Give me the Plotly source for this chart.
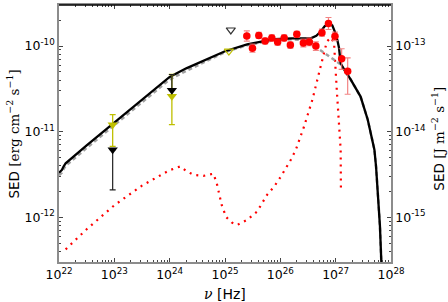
import plotly.graph_objects as go

# ---------------- data (log10 nu [Hz], log10 SED [erg cm^-2 s^-1]) ----------------
total_lognu = [22.00, 22.05, 22.08, 22.12, 22.50, 22.95, 23.50, 24.00, 24.30, 24.55,
               25.00, 25.40, 25.89, 26.20, 26.55, 26.65, 26.73, 26.80, 26.88, 26.94,
               26.99, 27.03, 27.06, 27.09, 27.15, 27.27, 27.45, 27.58, 27.70, 27.73,
               27.77, 27.80, 27.83]
total_logsed = [-11.48, -11.45, -11.41, -11.37, -11.16, -10.92, -10.62, -10.36, -10.26, -10.19,
                -10.06, -9.98, -9.92, -9.91, -9.91, -9.88, -9.83, -9.77, -9.73, -9.76,
                -9.84, -9.93, -10.02, -10.20, -10.27, -10.39, -10.59, -10.86, -11.21, -11.41,
                -11.80, -12.10, -12.60]

comp1_lognu = [22.00, 22.05, 22.08, 22.12, 22.50, 22.95, 23.50, 24.00, 24.30, 24.55,
               25.00, 25.40, 25.89, 26.20, 26.40, 26.55, 26.66, 26.80, 26.90, 27.00,
               27.08, 27.15, 27.27, 27.45, 27.58, 27.70, 27.73, 27.77, 27.80, 27.83]
comp1_logsed = [-11.51, -11.48, -11.44, -11.40, -11.19, -10.95, -10.65, -10.39, -10.29, -10.21,
                -10.07, -9.99, -9.93, -9.92, -9.93, -9.97, -10.02, -10.08, -10.12, -10.17,
                -10.21, -10.27, -10.39, -10.59, -10.86, -11.21, -11.41, -11.80, -12.10, -12.60]

comp2_lognu = [22.12, 22.50, 23.00, 23.50, 24.00, 24.19, 24.30, 24.43, 24.61, 24.79,
               24.85, 24.94, 25.02, 25.12, 25.22, 25.40, 25.58, 25.76, 25.89, 26.01,
               26.19, 26.28, 26.43, 26.58, 26.73, 26.84, 26.91, 26.97, 27.02, 27.06,
               27.09, 27.095]
comp2_logsed = [-12.375, -12.14, -11.86, -11.63, -11.45, -11.407, -11.46, -11.504, -11.516, -11.492,
                -11.60, -11.856, -11.997, -12.06, -12.09, -12.03, -11.934, -11.739, -11.64, -11.524,
                -11.328, -11.211, -10.938, -10.625, -10.234, -9.95, -9.90, -9.96, -10.51, -10.98,
                -11.21, -11.68]

obs_lognu = [25.394, 25.496, 25.611, 25.725, 25.846, 25.951, 26.069, 26.181, 26.298,
             26.416, 26.524, 26.642, 26.752, 26.870, 26.987, 27.108, 27.217]
obs_logsed = [-9.883, -10.025, -9.875, -9.941, -9.905, -9.953, -9.905, -9.988, -9.863,
              -9.964, -9.951, -10.000, -9.843, -9.736, -9.886, -10.148, -10.293]
obs_err_up = [0.06, 0.047, 0.035, 0.035, 0.035, 0.035, 0.035, 0.035, 0.035,
              0.045, 0.045, 0.05, 0.04, 0.07, 0.05, 0.117, 0.156]
obs_err_dn = [0.06, 0.047, 0.035, 0.035, 0.035, 0.035, 0.035, 0.035, 0.035,
              0.045, 0.045, 0.05, 0.04, 0.07, 0.05, 0.125, 0.27]

ul_black_lognu = [22.97, 24.04]
ul_black_logsed = [-11.211, -10.516]
ul_black_up = [0.0, 0.184]
ul_black_dn = [0.47, 0.0]

ul_yellow_lognu = [22.97, 24.04]
ul_yellow_logsed = [-10.918, -10.586]
ul_yellow_up = [0.117, 0.254]
ul_yellow_dn = [0.254, 0.332]

open_gray_lognu = [25.105]
open_gray_logsed = [-9.812]
open_yellow_lognu = [25.07]
open_yellow_logsed = [-10.059]

x_tickvals = [1e22, 1e23, 1e24, 1e25, 1e26, 1e27, 1e28]
x_ticktext = ["10<sup>22</sup>", "10<sup>23</sup>", "10<sup>24</sup>", "10<sup>25</sup>",
              "10<sup>26</sup>", "10<sup>27</sup>", "10<sup>28</sup>"]
y_tickvals = [1e-12, 1e-11, 1e-10]
y_ticktext = ["10<sup>-12</sup>", "10<sup>-11</sup>", "10<sup>-10</sup>"]
y2_tickvals = [1e-15, 1e-14, 1e-13]
y2_ticktext = ["10<sup>-15</sup>", "10<sup>-14</sup>", "10<sup>-13</sup>"]

x_title = "<span style='font-family:DejaVu Serif'><i>ν</i></span> [Hz]"
y_title = "SED <span style='font-family:DejaVu Serif'>[erg cm<sup>−2</sup> s<sup>−1</sup>]</span>"
y2_title = "SED <span style='font-family:DejaVu Serif'>[J m<sup>−2</sup> s<sup>−1</sup>]</span>"

# ---------------- helpers ----------------
def lin(v):
    return [10 ** a for a in v]

def errs(logv, up, dn):
    plus = [10 ** (a + u) - 10 ** a for a, u in zip(logv, up)]
    minus = [10 ** a - 10 ** (a - d) for a, d in zip(logv, dn)]
    return plus, minus

fig = go.Figure()

# red dotted component
fig.add_trace(go.Scatter(x=lin(comp2_lognu), y=lin(comp2_logsed), mode="lines",
                         line=dict(color="#ff0000", width=2.2, dash="2px,5px"),
                         showlegend=False, hoverinfo="skip"))
# grey dashed component
fig.add_trace(go.Scatter(x=lin(comp1_lognu), y=lin(comp1_logsed), mode="lines",
                         line=dict(color="#a0a0a0", width=2.5, dash="4px,3px"),
                         showlegend=False, hoverinfo="skip"))
# total model
fig.add_trace(go.Scatter(x=lin(total_lognu), y=lin(total_logsed), mode="lines",
                         line=dict(color="black", width=2.3),
                         showlegend=False, hoverinfo="skip"))

# observed points
p, m = errs(obs_logsed, obs_err_up, obs_err_dn)
fig.add_trace(go.Scatter(x=lin(obs_lognu), y=lin(obs_logsed), mode="markers",
                         marker=dict(color="#ff0000", size=7.5, symbol="circle"),
                         error_y=dict(type="data", symmetric=False, array=p, arrayminus=m,
                                      color="rgba(240,110,110,0.85)", thickness=1.2, width=3),
                         showlegend=False, hoverinfo="skip"))

# yellow triangles
p, m = errs(ul_yellow_logsed, ul_yellow_up, ul_yellow_dn)
fig.add_trace(go.Scatter(x=lin(ul_yellow_lognu), y=lin(ul_yellow_logsed), mode="markers",
                         marker=dict(color="#bfbf00", size=9, symbol="triangle-down"),
                         error_y=dict(type="data", symmetric=False, array=p, arrayminus=m,
                                      color="#bfbf00", thickness=1.3, width=3),
                         showlegend=False, hoverinfo="skip"))
# black triangles
p, m = errs(ul_black_logsed, ul_black_up, ul_black_dn)
fig.add_trace(go.Scatter(x=lin(ul_black_lognu), y=lin(ul_black_logsed), mode="markers",
                         marker=dict(color="black", size=9, symbol="triangle-down"),
                         error_y=dict(type="data", symmetric=False, array=p, arrayminus=m,
                                      color="#222222", thickness=1.2, width=3),
                         showlegend=False, hoverinfo="skip"))
# open triangles
fig.add_trace(go.Scatter(x=lin(open_gray_lognu), y=lin(open_gray_logsed), mode="markers",
                         marker=dict(color="rgba(0,0,0,0)", size=8, symbol="triangle-down",
                                     line=dict(color="#333333", width=1.2)),
                         showlegend=False, hoverinfo="skip"))
fig.add_trace(go.Scatter(x=lin(open_yellow_lognu), y=lin(open_yellow_logsed), mode="markers",
                         marker=dict(color="rgba(0,0,0,0)", size=8, symbol="triangle-down",
                                     line=dict(color="#bfbf00", width=1.2)),
                         showlegend=False, hoverinfo="skip"))
# dummy trace for right axis
fig.add_trace(go.Scatter(x=[1e22], y=[1e-15], yaxis="y2", mode="markers",
                         marker=dict(opacity=0), showlegend=False, hoverinfo="skip"))

axcol = "#8c8c8c"
tickfont = dict(family="DejaVu Sans", size=12.5, color="black")
minor = dict(ticks="inside", ticklen=2, tickcolor="#444444", dtick="D1", showgrid=False)
fig.update_layout(
    width=448, height=302,
    margin=dict(l=59, r=57, t=5, b=40, autoexpand=False),
    paper_bgcolor="white", plot_bgcolor="white",
    font=dict(family="DejaVu Sans", color="black"),
    xaxis=dict(type="log", range=[22, 28], showgrid=False, zeroline=False, automargin=False,
               showline=True, linecolor=axcol, linewidth=1.5, mirror="ticks",
               ticks="inside", ticklen=4, tickcolor="#444444",
               tickmode="array", tickvals=x_tickvals, ticktext=x_ticktext,
               tickfont=tickfont, minor=minor),
    yaxis=dict(type="log", range=[-12.523, -9.52], showgrid=False, zeroline=False, automargin=False,
               showline=True, linecolor=axcol, linewidth=1.5,
               ticks="inside", ticklen=4, tickcolor="#444444",
               tickmode="array", tickvals=y_tickvals, ticktext=y_ticktext,
               tickfont=tickfont, minor=minor),
    yaxis2=dict(type="log", range=[-15.523, -12.52], overlaying="y", side="right",
                showgrid=False, zeroline=False, automargin=False,
                showline=True, linecolor=axcol, linewidth=1.5,
                ticks="inside", ticklen=4, tickcolor="#444444",
                tickmode="array", tickvals=y2_tickvals, ticktext=y2_ticktext,
                tickfont=tickfont, minor=minor),
    shapes=[dict(type="line", xref="paper", yref="paper", x0=0, x1=1, y0=1, y1=1,
                 line=dict(color="black", width=1.5))],
    annotations=[
        dict(text=x_title, xref="paper", yref="paper", x=0.5, y=-0.123,
             xanchor="center", yanchor="middle", showarrow=False, font=dict(size=14)),
        dict(text=y_title, xref="paper", yref="paper", x=-0.1386, y=0.5,
             xanchor="center", yanchor="middle", textangle=-90, showarrow=False, font=dict(size=13.5)),
        dict(text=y2_title, xref="paper", yref="paper", x=1.1416, y=0.48,
             xanchor="center", yanchor="middle", textangle=-90, showarrow=False, font=dict(size=13.5)),
    ],
)

fig.write_html("out.html", config={"displayModeBar": False},
               post_script="document.body.style.margin='0';")
